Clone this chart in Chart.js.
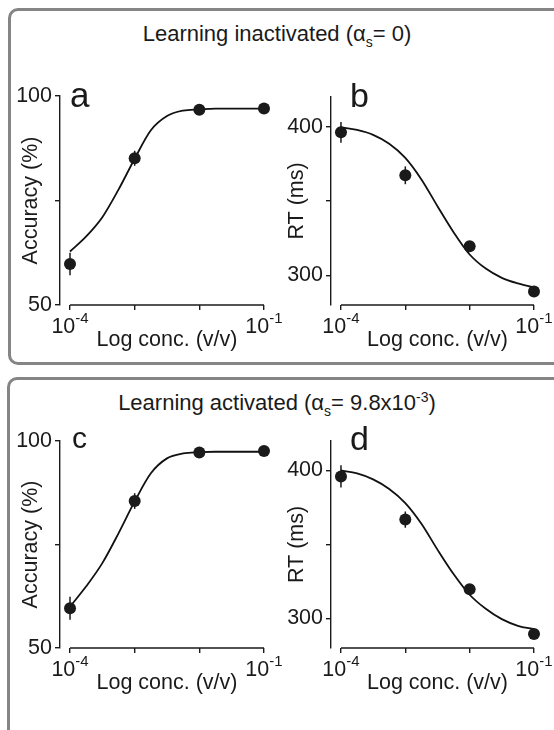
<!DOCTYPE html>
<html>
<head>
<meta charset="utf-8">
<title>Odour concentration vs accuracy and RT</title>
<script src="https://cdn.jsdelivr.net/npm/chart.js@4.4.1/dist/chart.umd.min.js"></script>
<style>
    body { margin: 0; background: #fff; }
    #fig {
        position: relative;
        width: 554px;
        height: 730px;
        overflow: hidden;
        font-family: 'Liberation Sans', Arial, sans-serif;
        color: #1a1a1a;
    }
    .box {
        position: absolute;
        box-sizing: border-box;
        border: 3px solid #858585;
        border-radius: 10px;
    }
    .title {
        position: absolute;
        left: 0;
        width: 554px;
        text-align: center;
        font-size: 22px;
        line-height: 24px;
        white-space: nowrap;
    }
    .title .sub { position: relative; top: 6px; font-size: 14px; }
    .title .sup { position: relative; top: -8px; font-size: 14px; }
    canvas { position: absolute; }
</style>
</head>
<body>
<div id="fig">
    <div class="box" style="left:8px; top:8px; width:600px; height:357px;"></div>
    <div class="box" style="left:7px; top:377px; width:600px; height:420px;"></div>
    <div class="title" style="top:22px;">Learning inactivated (&alpha;<span class="sub">s</span>= 0)</div>
    <div class="title" style="top:391px;">Learning activated (&alpha;<span class="sub">s</span>= 9.8x10<span class="sup">-3</span>)</div>
    <canvas id="panelA" width="300" height="280" style="left:0px; top:80px;"></canvas>
    <canvas id="panelB" width="277" height="280" style="left:277px; top:80px;"></canvas>
    <canvas id="panelC" width="300" height="290" style="left:0px; top:425px;"></canvas>
    <canvas id="panelD" width="277" height="290" style="left:277px; top:425px;"></canvas>
</div>

<script>
// ---- data ----
const concentrations = [1e-4, 1e-3, 1e-2, 1e-1];
const concTickExponents = ['-4', '', '', '-1'];
const concTitle = 'Log conc. (v/v)';

const accuracyTicks = [50, 75, 100];
const accuracyTickLabels = ['50', '', '100'];
const rtTicks = [300, 350, 400];
const rtTickLabels = ['300', '', '400'];

// learning inactivated
const accuracyInactive = [59.8, 85.1, 96.7, 97.0];
const accuracyInactiveErr = [2.7, 1.8, 0.4, 0.4];
const rtInactive = [396.2, 367.3, 319.6, 289.1];
const rtInactiveErr = [7, 6, 3, 2];

// learning activated
const accuracyActive = [59.6, 85.5, 97.2, 97.6];
const accuracyActiveErr = [2.8, 1.9, 0.4, 0.4];
const rtActive = [396.0, 366.8, 319.7, 289.4];
const rtActiveErr = [7.5, 5.5, 3, 3];

// model fits, sampled every quarter decade
const fitConc = [1e-4, 1.78e-4, 3.16e-4, 5.62e-4, 1e-3, 1.78e-3, 3.16e-3, 5.62e-3, 1e-2, 1.78e-2, 3.16e-2, 5.62e-2, 1e-1];
const fitAccuracyInactive = [62.8, 66.4, 71.0, 77.6, 85.0, 91.8, 95.2, 96.5, 96.8, 97.0, 97.0, 97.0, 97.0];
const fitRtInactive = [399.5, 397.8, 394.5, 388.5, 379.0, 364.5, 346.5, 329.0, 314.0, 304.5, 298.3, 294.5, 291.8];
const fitAccuracyActive = [60.0, 64.9, 70.5, 77.7, 85.4, 92.2, 95.8, 97.0, 97.3, 97.4, 97.4, 97.4, 97.4];
const fitRtActive = [400.0, 398.0, 394.0, 387.5, 378.0, 364.0, 346.5, 330.0, 316.0, 306.5, 299.5, 295.0, 292.7];

// ---- styling ----
const FONT = "'Liberation Sans', Arial, sans-serif";
const INK = '#1a1a1a';
const LABEL_SIZE = 21.5;
const EXP_SIZE = 15;
const X_MIN = 7e-5;   // leaves a small gap between y axis and the 10^-4 tick

Chart.defaults.font.family = FONT;
Chart.defaults.color = INK;

const toPoints = (xs, ys) => xs.map((x, i) => ({ x: x, y: ys[i] }));

// error bars behind the markers
const errorBarPlugin = {
    id: 'errorBars',
    beforeDatasetsDraw(chart, args, opts) {
        const { ctx, scales: { x, y } } = chart;
        ctx.save();
        ctx.strokeStyle = INK;
        ctx.lineWidth = 1.5;
        opts.values.forEach((v, i) => {
            const px = x.getPixelForValue(opts.xs[i]);
            ctx.beginPath();
            ctx.moveTo(px, y.getPixelForValue(v - opts.errors[i]));
            ctx.lineTo(px, y.getPixelForValue(v + opts.errors[i]));
            ctx.stroke();
        });
        ctx.restore();
    }
};

// x axis line (first to last tick), superscript tick labels, axis title, panel letter
const axisDecorPlugin = {
    id: 'axisDecor',
    afterDraw(chart, args, opts) {
        const { ctx, chartArea, scales: { x } } = chart;
        const axisY = chartArea.bottom;
        const x0 = x.getPixelForValue(opts.ticks[0]);
        const x1 = x.getPixelForValue(opts.ticks[opts.ticks.length - 1]);
        ctx.save();
        ctx.strokeStyle = INK;
        ctx.lineWidth = 1.4;
        ctx.beginPath();
        ctx.moveTo(x0, axisY);
        ctx.lineTo(x1, axisY);
        ctx.stroke();

        ctx.fillStyle = INK;
        ctx.textBaseline = 'alphabetic';
        ctx.textAlign = 'left';
        opts.ticks.forEach((t, i) => {
            const exp = opts.exponents[i];
            if (!exp) return;
            ctx.font = LABEL_SIZE + 'px ' + FONT;
            const wBase = ctx.measureText('10').width;
            ctx.font = EXP_SIZE + 'px ' + FONT;
            const wExp = ctx.measureText(exp).width;
            const left = x.getPixelForValue(t) - (wBase + wExp) / 2;
            ctx.font = LABEL_SIZE + 'px ' + FONT;
            ctx.fillText('10', left, axisY + 28);
            ctx.font = EXP_SIZE + 'px ' + FONT;
            ctx.fillText(exp, left + wBase, axisY + 18);
        });

        ctx.textAlign = 'center';
        ctx.font = LABEL_SIZE + 'px ' + FONT;
        ctx.fillText(opts.title, (x0 + x1) / 2, axisY + 41);

        ctx.textAlign = 'left';
        ctx.font = opts.letterSize + 'px ' + FONT;
        ctx.fillText(opts.letter, opts.letterX, opts.letterY);
        ctx.restore();
    }
};

function buildPanel(p) {
    const canvas = document.getElementById(p.id);
    const cx = parseFloat(canvas.style.left);
    const cy = parseFloat(canvas.style.top);
    const [left, top, right, bottom] = p.area;
    const yWidth = left - cx;
    const xHeight = cy + canvas.height - bottom;
    const half = LABEL_SIZE * 1.2 / 2;

    return new Chart(canvas, {
        type: 'line',
        data: {
            datasets: [{
                data: toPoints(concentrations, p.values),
                showLine: false,
                pointRadius: 6,
                pointBackgroundColor: INK,
                pointBorderWidth: 0,
                clip: false
            }, {
                data: toPoints(fitConc, p.fit),
                borderColor: '#111',
                borderWidth: 1.8,
                pointRadius: 0,
                cubicInterpolationMode: 'monotone',
                clip: false
            }]
        },
        options: {
            responsive: false,
            animation: false,
            events: [],
            layout: {
                padding: { left: 0, top: top - cy, right: cx + canvas.width - right, bottom: 0 }
            },
            scales: {
                x: {
                    type: 'logarithmic',
                    min: X_MIN,
                    max: concentrations[concentrations.length - 1],
                    afterBuildTicks: (axis) => { axis.ticks = concentrations.map(v => ({ value: v })); },
                    afterFit: (axis) => { axis.height = xHeight; },
                    ticks: { display: false },
                    grid: { display: true, drawOnChartArea: false, drawTicks: true, tickLength: 5, color: INK, lineWidth: 1.4 },
                    border: { display: false }
                },
                y: {
                    min: p.yMin,
                    max: p.yMax,
                    afterBuildTicks: (axis) => { axis.ticks = p.yTicks.map(v => ({ value: v })); },
                    afterFit: (axis) => { axis.width = yWidth; },
                    ticks: {
                        font: { size: LABEL_SIZE },
                        color: INK,
                        padding: 3,
                        callback: (value) => p.yTickLabels[p.yTicks.indexOf(value)] || ''
                    },
                    grid: { display: true, drawOnChartArea: false, drawTicks: true, tickLength: 5, color: INK, lineWidth: 1.4 },
                    border: { display: true, color: INK, width: 1.4 },
                    title: {
                        display: true,
                        text: p.yTitle,
                        font: { size: LABEL_SIZE },
                        color: INK,
                        padding: { top: p.yTitleX - half, bottom: 0 }
                    }
                }
            },
            plugins: {
                legend: { display: false },
                tooltip: { enabled: false },
                errorBars: { xs: concentrations, values: p.values, errors: p.errors },
                axisDecor: {
                    ticks: concentrations,
                    exponents: concTickExponents,
                    title: concTitle,
                    letter: p.letter,
                    letterSize: p.letterSize,
                    letterX: p.letterPos[0] - cx,
                    letterY: p.letterPos[1] - cy
                }
            }
        },
        plugins: [errorBarPlugin, axisDecorPlugin]
    });
}

const panels = [
    { id: 'panelA', letter: 'a', letterSize: 35, letterPos: [70, 107], area: [60, 96, 264, 305],
      yMin: 50, yMax: 100, yTicks: accuracyTicks, yTickLabels: accuracyTickLabels, yTitle: 'Accuracy (%)', yTitleX: 31,
      values: accuracyInactive, errors: accuracyInactiveErr, fit: fitAccuracyInactive },
    { id: 'panelB', letter: 'b', letterSize: 34, letterPos: [350, 107], area: [331, 97, 534, 305],
      yMin: 280, yMax: 420, yTicks: rtTicks, yTickLabels: rtTickLabels, yTitle: 'RT (ms)', yTitleX: 20,
      values: rtInactive, errors: rtInactiveErr, fit: fitRtInactive },
    { id: 'panelC', letter: 'c', letterSize: 30, letterPos: [72, 448], area: [60, 441, 264, 648],
      yMin: 50, yMax: 100, yTicks: accuracyTicks, yTickLabels: accuracyTickLabels, yTitle: 'Accuracy (%)', yTitleX: 31,
      values: accuracyActive, errors: accuracyActiveErr, fit: fitAccuracyActive },
    { id: 'panelD', letter: 'd', letterSize: 34, letterPos: [350, 450], area: [331, 439, 534, 648],
      yMin: 280, yMax: 420, yTicks: rtTicks, yTickLabels: rtTickLabels, yTitle: 'RT (ms)', yTitleX: 20,
      values: rtActive, errors: rtActiveErr, fit: fitRtActive }
];

panels.forEach(buildPanel);
</script>
</body>
</html>
